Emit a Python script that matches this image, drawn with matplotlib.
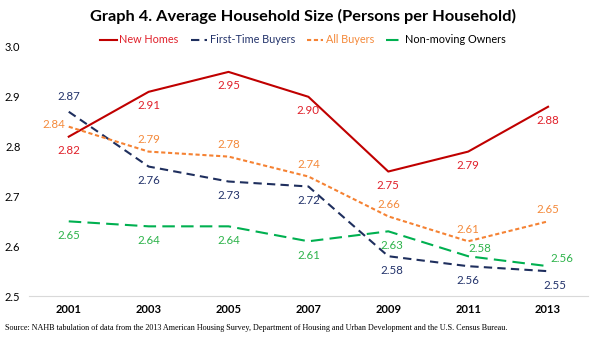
import matplotlib
matplotlib.use("Agg")
import matplotlib.pyplot as plt

plt.rcParams['font.family'] = ['Lato', 'DejaVu Sans']

years = ['2001', '2003', '2005', '2007', '2009', '2011', '2013']
new_homes = [2.82, 2.91, 2.95, 2.90, 2.75, 2.79, 2.88]
first_time = [2.87, 2.76, 2.73, 2.72, 2.58, 2.56, 2.55]
all_buyers = [2.84, 2.79, 2.78, 2.74, 2.66, 2.61, 2.65]
non_moving = [2.65, 2.64, 2.64, 2.61, 2.63, 2.58, 2.56]

# label offsets in pixels (dx, dy)
off_new = [(0, -14)] * 7
off_first = [(0, 15), (0, -14), (0, -14), (0, -14), (4, -14), (0, -14), (7, -14)]
off_all = [(-15, 2), (0, 12), (0, 12), (0, 12), (0, 12), (0, 12), (0, 12)]
off_non = [(0, -14), (0, -14), (0, -14), (0, -14), (4, -14), (12, 8), (14, 8)]

series = [
    ('New Homes', new_homes, '#C00000', '#E0202A', '-', off_new, '#E0202A'),
    ('First-Time Buyers', first_time, '#1F2F5E', '#23336B', (0, (4, 2.5)), off_first, '#23336B'),
    ('All Buyers', all_buyers, '#F58233', '#F4893A', (0, (2, 1.3)), off_all, '#F4893A'),
    ('Non-moving Owners', non_moving, '#00B050', '#2DB34A', (0, (6, 3)), off_non, 'black'),
]

fig = plt.figure(figsize=(6, 3.38), dpi=100)
ax = fig.add_axes([0.048, 0.124, 0.932, 0.737])
x = list(range(len(years)))

for name, vals, lc, tc, ls, offs, legc in series:
    ax.plot(x, vals, color=lc, linestyle=ls, linewidth=1.5, label=name)
    for xi, v, (dx, dy) in zip(x, vals, offs):
        ax.annotate(f'{v:.2f}', (xi, v), xytext=(dx, dy), textcoords='offset pixels',
                    ha='center', va='center', fontsize=8.3, color=tc)

ax.set_xlim(-0.5, 6.5)
ax.set_ylim(2.5, 3.0)
ax.set_xticks(x)
ax.set_xticklabels(years, fontweight='bold', fontsize=8)
ax.set_yticks([2.5, 2.6, 2.7, 2.8, 2.9, 3.0])
ax.set_yticklabels(['2.5', '2.6', '2.7', '2.8', '2.9', '3.0'], fontsize=8)
ax.tick_params(length=0, pad=6)
for s in ['top', 'right', 'left']:
    ax.spines[s].set_visible(False)
ax.spines['bottom'].set_color('#D9D9D9')

leg = fig.legend(loc='center', bbox_to_anchor=(0.505, 0.882), ncol=4, frameon=False,
                 fontsize=7.8, handlelength=1.5, columnspacing=1.1, handletextpad=0.25)
for t, s in zip(leg.get_texts(), series):
    t.set_color(s[6])

fig.text(0.505, 0.95, 'Graph 4. Average Household Size (Persons per Household)',
         ha='center', va='center', fontsize=11.8, fontweight='bold')
fig.text(0.008, 0.03, 'Source: NAHB tabulation of data from the 2013 American Housing Survey, '
         'Department of Housing and Urban Development and the U.S. Census Bureau.',
         ha='left', va='center', fontsize=5.9, family='Liberation Serif')

fig.savefig('out.png', dpi=100)
